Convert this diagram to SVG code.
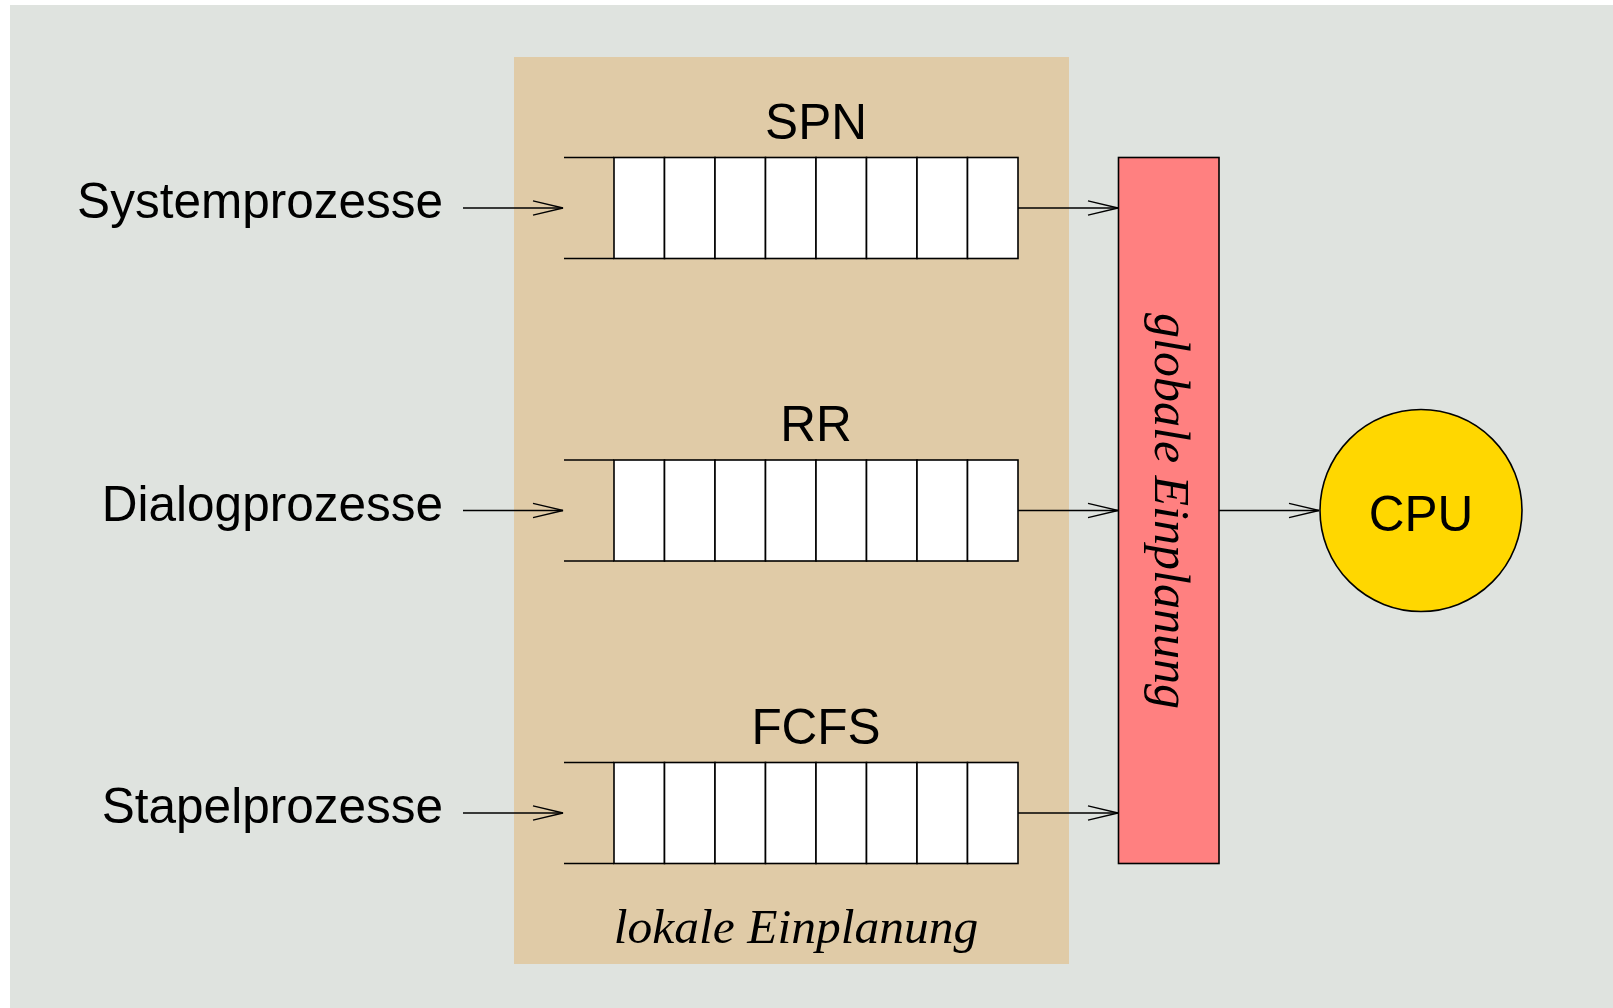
<svg xmlns="http://www.w3.org/2000/svg" width="1613" height="1008" viewBox="0 0 1613 1008">
<style>
.sans{font-family:"Liberation Sans",Arial,sans-serif;font-size:49.5px;fill:#000}
.ital{font-family:"Liberation Serif","Times New Roman",serif;font-style:italic;font-size:49.5px;fill:#000}
.cell{fill:#fff;stroke:#000;stroke-width:1.6}
.rail{stroke:#000;stroke-width:1.6;fill:none}
.conn{stroke:#000;stroke-width:1.3;fill:none;marker-end:url(#arr)}
</style>
<defs>
<marker id="arr" markerUnits="userSpaceOnUse" markerWidth="34" markerHeight="18" refX="31" refY="9" orient="auto">
<path d="M1,1.8 L31,9 L1,16.2" fill="none" stroke="#000" stroke-width="1.3"/>
</marker>
<g id="cells">
<rect class="cell" x="0" y="0" width="50.5" height="101"/>
<rect class="cell" x="50.5" y="0" width="50.5" height="101"/>
<rect class="cell" x="101" y="0" width="50.5" height="101"/>
<rect class="cell" x="151.5" y="0" width="50.5" height="101"/>
<rect class="cell" x="202" y="0" width="50.5" height="101"/>
<rect class="cell" x="252.5" y="0" width="50.5" height="101"/>
<rect class="cell" x="303" y="0" width="50.5" height="101"/>
<rect class="cell" x="353.5" y="0" width="50.5" height="101"/>
<path class="rail" d="M-50,0 H0 M-50,101 H0"/>
</g>
</defs>
<rect x="10" y="5" width="1603" height="1003" fill="#dfe3df"/>
<g id="lokal">
<rect x="514" y="57" width="555" height="907" fill="#e0cba7"/>
<text class="ital" x="796" y="943" text-anchor="middle">lokale Einplanung</text>
</g>
<g id="label-system"><text class="sans" x="443" y="218" text-anchor="end">Systemprozesse</text></g>
<g id="label-dialog"><text class="sans" x="443" y="521" text-anchor="end">Dialogprozesse</text></g>
<g id="label-stapel"><text class="sans" x="443" y="823" text-anchor="end">Stapelprozesse</text></g>
<g id="queue-spn">
<use href="#cells" x="614" y="157.5"/>
<text class="sans" x="816" y="139" text-anchor="middle">SPN</text>
</g>
<g id="queue-rr">
<use href="#cells" x="614" y="460"/>
<text class="sans" x="816" y="441" text-anchor="middle">RR</text>
</g>
<g id="queue-fcfs">
<use href="#cells" x="614" y="762.5"/>
<text class="sans" x="816" y="744" text-anchor="middle">FCFS</text>
</g>
<g id="global">
<rect x="1118.5" y="157.5" width="100.5" height="706" fill="#ff8080" stroke="#000" stroke-width="1.6"/>
<text class="ital" transform="translate(1155,511) rotate(90)" x="0" y="0" text-anchor="middle" style="font-size:50px">globale Einplanung</text>
</g>
<g id="cpu">
<circle cx="1421" cy="510.5" r="101" fill="#ffd700" stroke="#000" stroke-width="1.6"/>
<text class="sans" x="1421" y="531" text-anchor="middle">CPU</text>
</g>
<g id="connectors">
<line class="conn" x1="463" y1="208" x2="563" y2="208"/>
<line class="conn" x1="463" y1="510.5" x2="563" y2="510.5"/>
<line class="conn" x1="463" y1="813" x2="563" y2="813"/>
<line class="conn" x1="1018" y1="208" x2="1118" y2="208"/>
<line class="conn" x1="1018" y1="510.5" x2="1118" y2="510.5"/>
<line class="conn" x1="1018" y1="813" x2="1118" y2="813"/>
<line class="conn" x1="1219" y1="510.5" x2="1319" y2="510.5"/>
</g>
</svg>
